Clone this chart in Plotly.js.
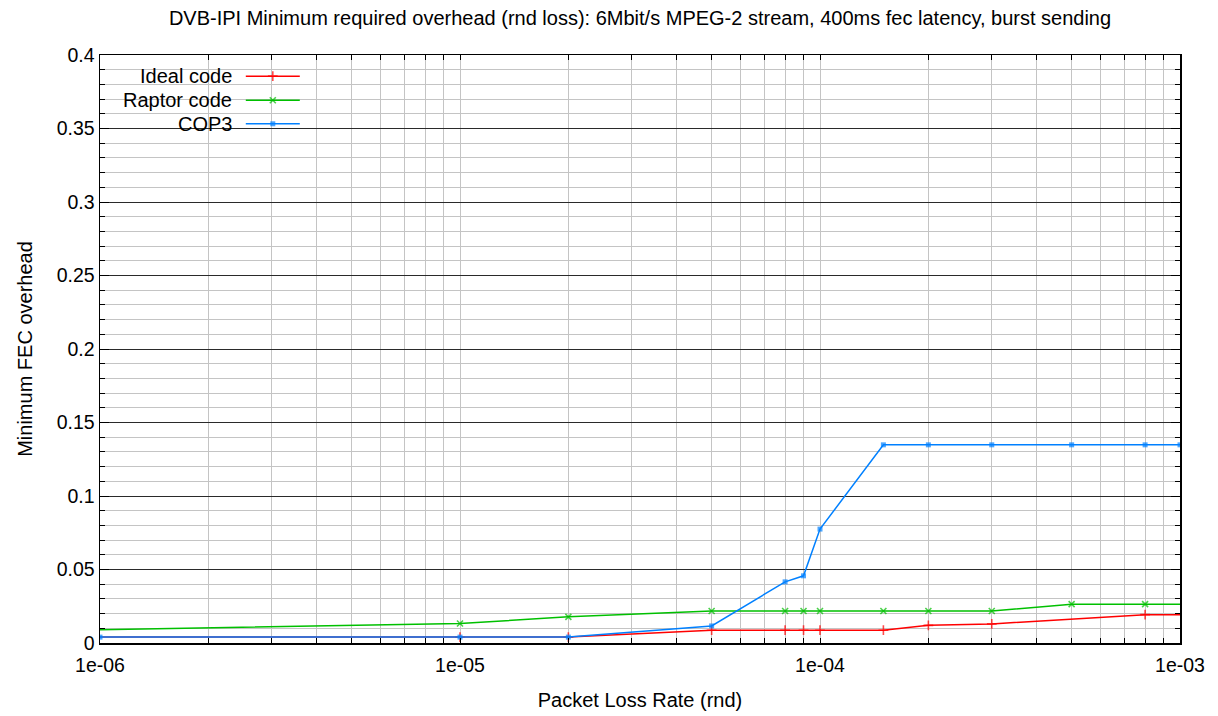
<!DOCTYPE html>
<html>
<head>
<meta charset="utf-8">
<script src="https://cdn.plot.ly/plotly-3.0.1.min.js"></script>
<style>
html,body{margin:0;padding:0;background:#fff;}
#chart{width:1218px;height:716px;}
</style>
</head>
<body>
<div id="chart"></div>
<script>
// ---- data ----
const seriesNames = ["Ideal code", "Raptor code", "COP3"];
const idealX = [1e-6, 1e-5, 2e-5, 5e-5, 8e-5, 9e-5, 1e-4, 1.5e-4, 2e-4, 3e-4, 8e-4, 1e-3];
const idealY = [0.004, 0.004, 0.004, 0.0087, 0.0087, 0.0087, 0.0087, 0.0087, 0.012, 0.013, 0.0193, 0.0193];
const raptorX = [1e-6, 1e-5, 2e-5, 5e-5, 8e-5, 9e-5, 1e-4, 1.5e-4, 2e-4, 3e-4, 5e-4, 8e-4, 1e-3];
const raptorY = [0.009, 0.0133, 0.0178, 0.0218, 0.0218, 0.0218, 0.0218, 0.0218, 0.0218, 0.0218, 0.0264, 0.0264, 0.0264];
const cop3X = [1e-6, 1e-5, 2e-5, 5e-5, 8e-5, 9e-5, 1e-4, 1.5e-4, 2e-4, 3e-4, 5e-4, 8e-4, 1e-3];
const cop3Y = [0.004, 0.004, 0.004, 0.0116, 0.0416, 0.0457, 0.0775, 0.1348, 0.1348, 0.1348, 0.1348, 0.1348, 0.1348];
const decadeVals = [1e-6, 1e-5, 1e-4, 1e-3];
const decadeLabels = ["1e-06", "1e-05", "1e-04", "1e-03"];

// ---- styling ----
const FONT = "Liberation Sans, Arial, Helvetica, sans-serif";
const colors = ["#ff0000", "#00c000", "#0080ff"];
const symbols = ["cross-thin", "x-thin", "square"];
const msize = [7, 6, 5];

// x tick positions (all log minor positions), labels only at decades
const xTickVals = [];
const xTickText = [];
for (let e = -6; e <= -3; e++) {
  for (let m = 1; m <= 9; m++) {
    if (e === -3 && m > 1) break;
    const v = m * Math.pow(10, e);
    xTickVals.push(v);
    const di = decadeVals.findIndex(d => Math.abs(d - v) / d < 1e-9);
    xTickText.push(di >= 0 ? decadeLabels[di] : "");
  }
}

function sizes(xs, hideEnds, s) {
  return xs.map((v, i) => (hideEnds && (i === 0 || i === xs.length - 1)) ? 0 : s);
}

const dataSets = [[idealX, idealY, true], [raptorX, raptorY, true], [cop3X, cop3Y, false]];
const traces = dataSets.map((d, k) => ({
  type: "scatter", mode: "lines+markers", name: seriesNames[k],
  x: d[0], y: d[1],
  line: {color: colors[k], width: 1.5},
  marker: {symbol: symbols[k], size: sizes(d[0], d[2], msize[k]), color: colors[k],
           line: {color: colors[k], width: k === 2 ? 0 : 1.6}},
  showlegend: false, hoverinfo: "skip"
}));

// custom legend (text right-aligned, sample to the right), on an overlay axis in [0,1]
const legRows = [0.964, 0.923, 0.883];
const legX = [0.135, 0.16, 0.185];
legRows.forEach((r, k) => {
  traces.push({
    type: "scatter", mode: "lines+markers", xaxis: "x2", yaxis: "y2",
    x: legX, y: [r, r, r],
    line: {color: colors[k], width: 1.5},
    marker: {symbol: symbols[k], size: [0, msize[k], 0], color: colors[k],
             line: {color: colors[k], width: k === 2 ? 0 : 1.6}},
    showlegend: false, hoverinfo: "skip", cliponaxis: false
  });
});
const annotations = legRows.map((r, k) => ({
  xref: "x2", yref: "y2", x: 0.124, y: r, xanchor: "right", yanchor: "middle",
  text: seriesNames[k], showarrow: false, font: {family: FONT, size: 20, color: "#000"}
}));

const layout = {
  width: 1218, height: 716,
  margin: {l: 100, r: 38, t: 55, b: 73},
  paper_bgcolor: "#fff", plot_bgcolor: "#fff",
  font: {family: FONT, color: "#000", size: 19.5},
  title: {text: "DVB-IPI Minimum required overhead (rnd loss): 6Mbit/s MPEG-2 stream, 400ms fec latency, burst sending",
          font: {family: FONT, size: 20, color: "#000"}, x: 0.5, xref: "paper", xanchor: "center", y: 0.975, yanchor: "middle"},
  xaxis: {
    type: "log", range: [-6, -3],
    tickmode: "array", tickvals: xTickVals, ticktext: xTickText,
    ticks: "inside", ticklen: 5, tickcolor: "#000", tickwidth: 1,
    ticklabelstandoff: 4,
    showgrid: true, gridcolor: "#c4c4c4", gridwidth: 1,
    showline: true, linecolor: "#000", linewidth: 1.5, mirror: "ticks",
    tickfont: {family: FONT, size: 19.5}, zeroline: false,
    title: {text: "Packet Loss Rate (rnd)", font: {family: FONT, size: 20}, standoff: 18}
  },
  yaxis: {
    range: [0, 0.4], dtick: 0.05, tick0: 0,
    ticks: "inside", ticklen: 9, tickcolor: "#000", tickwidth: 1,
    showgrid: true, gridcolor: "#2a2a2a", gridwidth: 1,
    minor: {dtick: 0.01, showgrid: true, gridcolor: "#c4c4c4", gridwidth: 1, ticks: "inside", ticklen: 5, tickcolor: "#000"},
    showline: true, linecolor: "#000", linewidth: 1.5, mirror: "ticks",
    tickfont: {family: FONT, size: 19.5}, zeroline: false,
    title: {text: "Minimum FEC overhead", font: {family: FONT, size: 20}, standoff: 18}
  },
  xaxis2: {overlaying: "x", range: [0, 1], visible: false, fixedrange: true},
  yaxis2: {overlaying: "y", range: [0, 1], visible: false, fixedrange: true},
  annotations: annotations
};

Plotly.newPlot("chart", traces, layout, {staticPlot: true, displayModeBar: false});
</script>
</body>
</html>
